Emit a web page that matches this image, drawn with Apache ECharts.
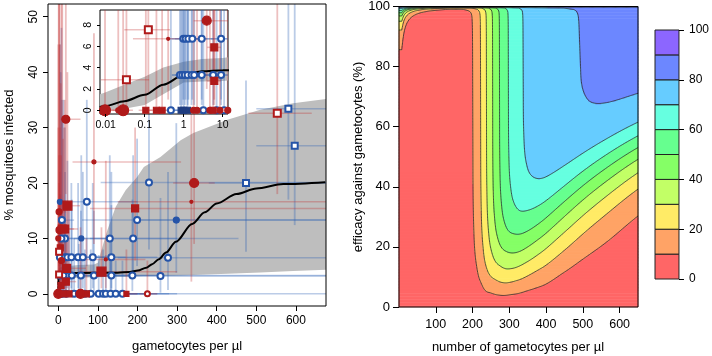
<!DOCTYPE html>
<html>
<head>
<meta charset="utf-8">
<script src="https://cdn.jsdelivr.net/npm/echarts@6/dist/echarts.min.js"></script>
<style>
html, body { margin: 0; padding: 0; background: #fff; }
#chart { width: 712px; height: 356px; }
</style>
</head>
<body>
<div id="chart"></div>
<script>
// fitted curve: gametocytes per µl -> % mosquitoes infected
const curveG = [0.007, 0.01, 0.03, 0.1, 0.3, 1, 3, 10, 100, 150, 180, 201, 222, 237, 254, 272, 297, 338, 370, 400, 450, 500, 568, 674];
const curveP = [0.3, 0.4, 0.85, 1.45, 2.4, 3.3, 3.65, 3.75, 3.78, 3.82, 3.95, 4.2, 4.72, 5.35, 6.25, 7.45, 9.4, 12.6, 14.7, 16.3, 18.0, 19.0, 19.8, 20.15];

// grey confidence band
const bandG = [0.007, 0.01, 0.03, 0.1, 0.3, 1, 3, 10, 50, 90, 100, 107, 124, 145, 170, 199, 216, 258, 309, 341, 427, 510, 593, 680];
const bandLo = [0, 0, 0.15, 0.5, 1.5, 2.6, 2.7, 2.75, 2.9, 3.0, 3.0, 3.0, 3.1, 3.1, 3.1, 3.15, 3.2, 3.2, 3.3, 3.4, 3.6, 3.85, 4.1, 4.35];
const bandHi = [1.5, 1.7, 2.4, 3.15, 4.0, 4.56, 4.8, 4.9, 5.2, 5.3, 5.6, 7.4, 11.5, 15.7, 18.7, 21.1, 22.9, 24.7, 27.7, 29, 31.4, 33.2, 34.4, 35.2];

// observations: [gametocytes, % infected, gLo, gHi, pLo, pHi, symbol size]
const redDots = [
  [19, 31.5, 6, 56, 18, 52.3, 8], [90, 23.8, 36, 310, 9, 47, 4], [343, 20.0, 290, 395, 9, 38.5, 9],
  [336, 16.6, 150, 676, 2.2, 40, 3], [2, 14.8, 0, 20, 5, 52.3, 6], [0, 10, 0, 12, 2, 45, 5],
  [3, 11.5, 0, 18, 3, 52.3, 7], [120, 6.2, 60, 220, 1, 24, 3], [0, 0, 0, 5, 0, 30, 9],
  [56, 0, 40, 80, 0, 12, 9], [8, 6, 0, 25, 1, 52.3, 6], [1, 0, 0, 3, 0, 52.3, 6],
  [4, 0, 0, 8, 0, 45, 5], [6, 0, 2, 12, 0, 38, 5], [14, 0, 5, 30, 0, 30, 5]
];
const redSquares = [
  [23, 15.9, 8, 55, 5, 40, 9], [194, 15.4, 80, 676, 6, 30, 7], [10, 11.7, 0, 40, 3, 52.3, 8],
  [16, 11.7, 0, 50, 3, 35, 8], [21, 4.6, 5, 70, 1, 16, 8], [109, 4.0, 50, 300, 1, 12, 9],
  [19, 2.2, 5, 45, 0.5, 10, 7], [27, 0, 15, 45, 0, 15, 6], [71, 0, 55, 100, 0, 10, 6],
  [5, 8.3, 0, 15, 2, 30, 6], [172, 0, 150, 200, 0, 8, 5], [12, 0, 4, 25, 0, 28, 6], [7, 1.5, 0, 20, 0.2, 25, 6]
];
const redOpenSquares = [
  [553, 32.6, 480, 640, 18, 52.3, 7], [2, 7.6, 0, 12, 1, 25, 6], [2, 3.5, 0, 10, 0.5, 20, 6]
];
const redOpenCircles = [[225, 0, 205, 250, 0, 6, 5]];
const blueOpenCircles = [
  [229, 20.1, 107, 676, 8, 36, 6], [72, 16.6, 5, 200, 5, 35, 6], [9, 13.3, 0, 40, 3, 35, 6],
  [199, 13.3, 60, 676, 5, 28, 6], [17, 10, 0, 60, 2, 30, 6], [130, 10, 40, 300, 3, 25, 6],
  [189, 10, 80, 455, 3, 25, 6],
  [4, 6.6, 0, 15, 1, 22, 6], [17, 6.6, 5, 40, 1, 22, 6], [23, 6.6, 8, 50, 1, 24, 6],
  [33, 6.6, 15, 70, 1, 20, 6], [50, 6.6, 25, 100, 1, 20, 6], [62, 6.6, 35, 120, 1, 22, 6],
  [87, 6.6, 50, 170, 1, 20, 6], [134, 6.6, 80, 250, 1, 22, 6], [277, 6.5, 150, 676, 0.7, 22, 6],
  [4, 3.3, 0, 12, 0.5, 18, 6], [17, 3.3, 5, 35, 0.5, 16, 6], [27, 3.3, 10, 50, 0.5, 16, 6],
  [34, 3.3, 15, 60, 0.5, 17, 6], [57, 3.3, 30, 110, 0.5, 15, 6], [90, 3.3, 50, 180, 0.5, 15, 6],
  [134, 3.3, 80, 260, 0.5, 16, 6], [187, 3.3, 110, 676, 0.5, 17, 6], [258, 3.2, 0, 676, 0.2, 17.3, 6],
  [2, 0, 0, 8, 0, 12, 6], [20, 0, 8, 40, 0, 10, 6], [40, 0, 20, 70, 0, 10, 6],
  [52, 0, 30, 90, 0, 9, 6], [67, 0, 40, 110, 0, 8, 6], [82, 0, 50, 140, 0, 8, 6],
  [102, 0, 60, 200, 0, 7, 6], [113, 0, 70, 220, 0, 8, 6], [120, 0, 60, 676, 0, 7, 6],
  [132, 0, 80, 250, 0, 7, 6], [145, 0, 90, 280, 0, 6, 6], [162, 0, 100, 300, 0, 6, 6],
  [6, 0, 0, 12, 0, 40, 6], [10, 0, 3, 20, 0, 32, 6], [13, 3.3, 5, 25, 0.5, 35, 6], [8, 10, 0, 20, 2, 48, 6]
];
const blueDots = [[58, 10, 20, 120, 3, 25, 5], [298, 13.3, 200, 676, 3.8, 30.8, 6], [4, 16.6, 0, 20, 5, 45, 5]];
const blueOpenSquares = [[581, 33.4, 500, 676, 17, 52.3, 6], [597, 26.7, 500, 676, 12.4, 52.3, 6], [474, 20, 380, 676, 7.6, 38.5, 6]];

// inset (log scale, low densities)
const insetRedDots = [
  [3.9, 8.4, 1.8, 13.7, 2, 9.4, 9], [0.40, 6.7, 0.05, 0.9, 1, 9.4, 3], [0.0096, 0, 0.00714, 0.02, 0, 9.4, 11],
  [0.028, 0, 0.015, 0.05, 0, 9.4, 11], [0.021, 0, 0.012, 0.03, 0, 9.4, 5], [1.8, 0, 1.2, 2.6, 0, 9.4, 6],
  [2.2, 0, 1.5, 3.2, 0, 9.4, 6], [4.7, 0, 3, 7, 0, 9.4, 6], [8.5, 0, 6, 12, 0, 9.4, 6], [13.5, 0, 10, 13.7, 0, 9.4, 6]
];
const insetRedSquares = [
  [6.1, 5.9, 4, 9, 1, 9.4, 7], [6.1, 2.75, 4, 9, 0.5, 9.4, 7], [0.107, 0, 0.07, 0.16, 0, 9.4, 6],
  [0.20, 0, 0.13, 0.3, 0, 9.4, 6], [0.28, 0, 0.18, 0.4, 0, 9.4, 6], [5.7, 0, 4, 8, 0, 9.4, 6]
];
const insetRedOpenSquares = [[0.124, 7.54, 0.03, 0.45, 1.5, 9.4, 7], [0.034, 2.85, 0.0075, 0.13, 0.3, 9.4, 7]];
const insetBlueOpen = [
  [0.98, 6.7, 0.4, 13.7, 1, 9.4, 6], [1.12, 6.7, 0.5, 3, 1, 9.4, 6], [1.32, 6.7, 0.6, 3, 1, 9.4, 6],
  [1.66, 6.7, 0.8, 4, 1, 9.4, 6], [2.9, 6.7, 1.5, 6, 1, 9.4, 6], [9.1, 6.7, 5, 13.7, 1, 9.4, 6],
  [0.80, 3.3, 0.5, 13.7, 0.5, 9.4, 6], [0.92, 3.3, 0.5, 2, 0.5, 9.4, 6], [1.07, 3.3, 0.6, 2, 0.5, 9.4, 6],
  [1.26, 3.3, 0.7, 3, 0.5, 9.4, 6], [1.59, 3.3, 0.9, 3, 0.5, 9.4, 6], [1.86, 3.3, 1, 4, 0.5, 9.4, 6],
  [2.9, 3.3, 1.5, 6, 0.5, 9.4, 6], [5.7, 3.3, 3, 10, 0.5, 9.4, 6], [9.1, 3.3, 5, 13.7, 0.5, 9.4, 6],
  [0.47, 0, 0.3, 13.7, 0, 9.4, 6], [3.2, 0, 2, 5, 0, 9.4, 6], [7.0, 0, 4, 11, 0, 9.4, 6], [10.9, 0, 7, 13.7, 0, 9.4, 6]
];
const insetBlueSquares = [[0.86, 0, 0.5, 1.3, 0, 9.4, 6], [1.0, 0, 0.6, 1.6, 0, 9.4, 6], [1.25, 0, 0.8, 2, 0, 9.4, 6]];

// contour levels (% reduction in infectiousness) and tick values
const contourLevels = [10, 20, 30, 40, 50, 60, 70, 80, 90];
const levelColors = ['#FF6666', '#FFA366', '#FFEB66', '#C2FF66', '#85FF66', '#66FF8F', '#66FFE0', '#66CCFF', '#6C87FF', '#8C66FF'];
const mainXTicks = [0, 100, 200, 300, 400, 500, 600];
const mainYTicks = [0, 10, 20, 30, 40, 50];
const insetXTicks = [0.01, 0.1, 1, 10];
const insetYTicks = [0, 2, 4, 6, 8];
const effXTicks = [100, 200, 300, 400, 500, 600];

const RED = '#B01A1A', BLUE = '#2554A8';
const RED_BAR = 'rgba(195,45,45,0.3)', BLUE_BAR = 'rgba(45,95,180,0.32)';
const FONT = 'Liberation Sans, Arial, Helvetica, sans-serif';

// monotone cubic through the read curve, on log10(gametocytes)
function monotone(xs, ys) {
  const n = xs.length, d = [], m = [];
  for (let i = 0; i < n - 1; i++) d.push((ys[i + 1] - ys[i]) / (xs[i + 1] - xs[i]));
  m[0] = d[0]; m[n - 1] = d[n - 2];
  for (let i = 1; i < n - 1; i++) m[i] = d[i - 1] * d[i] <= 0 ? 0 : (d[i - 1] + d[i]) / 2;
  for (let i = 0; i < n - 1; i++) {
    if (d[i] === 0) { m[i] = 0; m[i + 1] = 0; continue; }
    const a = m[i] / d[i], b = m[i + 1] / d[i], s = a * a + b * b;
    if (s > 9) { const t = 3 / Math.sqrt(s); m[i] = t * a * d[i]; m[i + 1] = t * b * d[i]; }
  }
  return x => {
    if (x <= xs[0]) return ys[0];
    if (x >= xs[n - 1]) return ys[n - 1];
    let i = 0;
    while (x > xs[i + 1]) i++;
    const h = xs[i + 1] - xs[i], t = (x - xs[i]) / h, t2 = t * t, t3 = t2 * t;
    return (2 * t3 - 3 * t2 + 1) * ys[i] + (t3 - 2 * t2 + t) * h * m[i] + (-2 * t3 + 3 * t2) * ys[i + 1] + (t3 - t2) * h * m[i + 1];
  };
}
const curveFn = monotone(curveG.map(Math.log10), curveP);
const infect = g => curveFn(Math.log10(Math.max(g, 1e-6)));
// reduction in infectiousness when gametocytes are cut by e % (surface sampled from g = 8 upwards, like the original grid)
const reduction = (g, e) => {
  const gg = Math.max(g, 8);
  return Math.max(0, 100 * (1 - infect(gg * (1 - e / 100)) / infect(gg)));
};

// sample the surface
const gStep = 2.5, eStep = 0.5;
const gridG = [], gridE = [];
for (let i = 0; i <= 650 / gStep; i++) gridG.push(i * gStep);
for (let j = 0; j <= 100 / eStep; j++) gridE.push(j * eStep);
const Z = gridE.map(e => gridG.map(g => reduction(g, e)));
const levelOf = z => Math.min(9, Math.floor(z / 10));

// filled cells, merged into runs along each row
const fillRuns = [];
for (let j = 0; j < gridE.length - 1; j++) {
  const ec = gridE[j] + eStep / 2;
  let start = 0, cur = levelOf(reduction(gridG[0] + gStep / 2, ec));
  for (let i = 1; i <= gridG.length - 1; i++) {
    const lv = i < gridG.length - 1 ? levelOf(reduction(gridG[i] + gStep / 2, ec)) : -1;
    if (lv !== cur) {
      fillRuns.push([gridG[start], gridG[i], gridE[j], gridE[j + 1], cur]);
      start = i; cur = lv;
    }
  }
}

// contour lines by marching squares
function contourSegments(L) {
  const segs = [];
  const cross = (x1, y1, v1, x2, y2, v2) => {
    const t = (L - v1) / (v2 - v1);
    return [x1 + t * (x2 - x1), y1 + t * (y2 - y1)];
  };
  for (let j = 0; j < gridE.length - 1; j++) {
    for (let i = 0; i < gridG.length - 1; i++) {
      const x0 = gridG[i], x1 = gridG[i + 1], y0 = gridE[j], y1 = gridE[j + 1];
      const a = Z[j][i], b = Z[j][i + 1], c = Z[j + 1][i + 1], d = Z[j + 1][i];
      const pts = [];
      if ((a - L) * (b - L) < 0) pts.push(cross(x0, y0, a, x1, y0, b));
      if ((b - L) * (c - L) < 0) pts.push(cross(x1, y0, b, x1, y1, c));
      if ((c - L) * (d - L) < 0) pts.push(cross(x1, y1, c, x0, y1, d));
      if ((d - L) * (a - L) < 0) pts.push(cross(x0, y1, d, x0, y0, a));
      if (pts.length >= 2) segs.push([pts[0], pts[1]]);
      if (pts.length === 4) segs.push([pts[2], pts[3]]);
    }
  }
  return segs;
}
const segsByLevel = contourLevels.map(contourSegments);

function barRenderer(color) {
  return function (params, api) {
    const g = api.value(0), p = api.value(1);
    const h0 = api.coord([api.value(2), p]), h1 = api.coord([api.value(3), p]);
    const v0 = api.coord([g, api.value(4)]), v1 = api.coord([g, api.value(5)]);
    return {
      type: 'group',
      children: [
        { type: 'line', shape: { x1: h0[0], y1: h0[1], x2: h1[0], y2: h1[1] }, style: { stroke: color, lineWidth: 1.5 } },
        { type: 'line', shape: { x1: v0[0], y1: v0[1], x2: v1[0], y2: v1[1] }, style: { stroke: color, lineWidth: 1.8 } }
      ]
    };
  };
}

function bandRenderer(params, api) {
  const pts = [];
  bandG.forEach((g, i) => pts.push(api.coord([g, bandHi[i]])));
  for (let i = bandG.length - 1; i >= 0; i--) pts.push(api.coord([bandG[i], bandLo[i]]));
  return { type: 'polygon', shape: { points: pts }, style: { fill: '#BEBEBE' } };
}

function panelSeries(ax, zb, groups, reds, blues) {
  const out = [
    { type: 'custom', xAxisIndex: ax, yAxisIndex: ax, data: [[0]], renderItem: bandRenderer, clip: true, z: zb + 1, silent: true },
    { type: 'custom', xAxisIndex: ax, yAxisIndex: ax, data: blues, renderItem: barRenderer(BLUE_BAR), clip: true, z: zb + 2, silent: true },
    { type: 'custom', xAxisIndex: ax, yAxisIndex: ax, data: reds, renderItem: barRenderer(RED_BAR), clip: true, z: zb + 2, silent: true },
    { type: 'line', xAxisIndex: ax, yAxisIndex: ax, data: curveG.map((g, i) => [g, curveP[i]]), symbol: 'none',
      smooth: 0.3, smoothMonotone: 'x', lineStyle: { color: '#000', width: 2 }, z: zb + 3, silent: true }
  ];
  groups.forEach(([data, symbol, color]) => {
    out.push({ type: 'scatter', xAxisIndex: ax, yAxisIndex: ax, data: data, symbol: symbol,
      symbolSize: v => v[6], itemStyle: { color: color, borderColor: color, borderWidth: 1.2, opacity: 1 },
      z: zb + 4, silent: true, progressive: 0 });
  });
  return out;
}

const mainSeries = panelSeries(0, 0, [
  [blueOpenCircles, 'emptyCircle', BLUE], [blueDots, 'circle', BLUE], [blueOpenSquares, 'emptyRect', BLUE],
  [redDots, 'circle', RED], [redSquares, 'rect', RED], [redOpenSquares, 'emptyRect', RED], [redOpenCircles, 'emptyCircle', RED]
], [...redDots, ...redSquares, ...redOpenSquares, ...redOpenCircles], [...blueOpenCircles, ...blueDots, ...blueOpenSquares]);

const insetSeries = panelSeries(1, 20, [
  [insetBlueOpen, 'emptyCircle', BLUE], [insetBlueSquares, 'rect', '#1F3D80'],
  [insetRedDots, 'circle', RED], [insetRedSquares, 'rect', RED], [insetRedOpenSquares, 'emptyRect', RED]
], [...insetRedDots, ...insetRedSquares, ...insetRedOpenSquares], [...insetBlueOpen, ...insetBlueSquares]);

const contourSeries = [
  { type: 'custom', xAxisIndex: 2, yAxisIndex: 2, data: fillRuns, progressive: 0, silent: true, z: 1,
    encode: { x: [0, 1], y: [2, 3] },
    renderItem: (params, api) => {
      const p0 = api.coord([api.value(0), api.value(2)]);
      const p1 = api.coord([api.value(1), api.value(3)]);
      return { type: 'rect', shape: { x: p0[0] - 0.35, y: p1[1] - 0.35, width: p1[0] - p0[0] + 0.7, height: p0[1] - p1[1] + 0.7 },
        style: { fill: levelColors[api.value(4)] } };
    } },
  { type: 'custom', xAxisIndex: 2, yAxisIndex: 2, data: contourLevels.map(l => [l]), progressive: 0, silent: true, z: 2,
    renderItem: (params, api) => {
      let d = '';
      segsByLevel[params.dataIndex].forEach(s => {
        const a = api.coord(s[0]), b = api.coord(s[1]);
        d += 'M' + a[0].toFixed(2) + ' ' + a[1].toFixed(2) + 'L' + b[0].toFixed(2) + ' ' + b[1].toFixed(2);
      });
      return { type: 'path', shape: { pathData: d }, style: { stroke: '#2a2a2a', lineWidth: 0.8, fill: null } };
    } },
  { type: 'custom', xAxisIndex: 3, yAxisIndex: 3, data: levelColors.map((c, i) => [i]), silent: true, z: 2,
    renderItem: (params, api) => {
      const i = api.value(0);
      const p0 = api.coord([0, i * 10]), p1 = api.coord([1, i * 10 + 10]);
      return { type: 'rect', shape: { x: p0[0], y: p1[1], width: p1[0] - p0[0], height: p0[1] - p1[1] },
        style: { fill: levelColors[i], stroke: '#222', lineWidth: 1 } };
    } }
];

const tickStyle = { color: '#000', width: 1 };
const lbl = (size, extra) => Object.assign({ color: '#000', fontSize: size, fontFamily: FONT }, extra);

const option = {
  animation: false,
  textStyle: { fontFamily: FONT },
  grid: [
    { left: 48, top: 4, width: 278, height: 302, show: true, borderColor: '#000', borderWidth: 1, backgroundColor: 'transparent', z: 10 },
    { left: 100, top: 10, width: 128, height: 104, show: true, borderColor: '#000', borderWidth: 1, backgroundColor: '#fff', z: 20 },
    { left: 399, top: 6, width: 239, height: 301, show: true, borderColor: '#000', borderWidth: 1, backgroundColor: 'transparent', z: 10 },
    { left: 655, top: 30, width: 26, height: 249, show: false }
  ],
  xAxis: [
    { gridIndex: 0, type: 'value', min: -26, max: 676, z: 10,
      axisLine: { show: false, onZero: false }, splitLine: { show: false },
      axisTick: { length: 5, lineStyle: tickStyle, customValues: mainXTicks },
      axisLabel: lbl(12, { margin: 9, customValues: mainXTicks }) },
    { gridIndex: 1, type: 'log', logBase: 10, min: 0.00714, max: 13.7, z: 25,
      axisLine: { show: false, onZero: false }, splitLine: { show: false },
      axisTick: { length: 3, lineStyle: tickStyle, customValues: insetXTicks },
      axisLabel: lbl(10.5, { margin: 6, customValues: insetXTicks }) },
    { gridIndex: 2, type: 'value', min: 0, max: 650, z: 10,
      axisLine: { show: false, onZero: false }, splitLine: { show: false },
      axisTick: { length: 6, lineStyle: tickStyle, customValues: effXTicks },
      axisLabel: lbl(12.5, { margin: 11, customValues: effXTicks }) },
    { gridIndex: 3, type: 'value', min: 0, max: 1, show: false }
  ],
  yAxis: [
    { gridIndex: 0, type: 'value', min: -2.2, max: 52.3, z: 10,
      axisLine: { show: false, onZero: false }, splitLine: { show: false },
      axisTick: { length: 5, lineStyle: tickStyle, customValues: mainYTicks },
      axisLabel: lbl(12, { margin: 8, rotate: 90, customValues: mainYTicks }) },
    { gridIndex: 1, type: 'value', min: -0.35, max: 9.4, z: 25,
      axisLine: { show: false, onZero: false }, splitLine: { show: false },
      axisTick: { length: 3, lineStyle: tickStyle, customValues: insetYTicks },
      axisLabel: lbl(10.5, { margin: 6, rotate: 90, customValues: insetYTicks }) },
    { gridIndex: 2, type: 'value', min: 0, max: 100, interval: 20, z: 10,
      axisLine: { show: false, onZero: false }, splitLine: { show: false },
      axisTick: { length: 6, lineStyle: tickStyle },
      axisLabel: lbl(13, { margin: 9 }) },
    { gridIndex: 3, type: 'value', position: 'right', min: 0, max: 100, interval: 20, z: 10,
      axisLine: { show: false, onZero: false }, splitLine: { show: false },
      axisTick: { length: 5, lineStyle: tickStyle },
      axisLabel: lbl(12, { margin: 10 }) }
  ],
  graphic: [
    { type: 'text', x: 9, y: 155, rotation: Math.PI / 2, style: { text: '% mosquitoes infected', fontSize: 13, fontFamily: FONT, fill: '#000', align: 'center', verticalAlign: 'middle' } },
    { type: 'text', x: 187, y: 346, style: { text: 'gametocytes per µl', fontSize: 13, fontFamily: FONT, fill: '#000', align: 'center', verticalAlign: 'middle' } },
    { type: 'text', x: 358, y: 157, rotation: Math.PI / 2, style: { text: 'efficacy against gametocytes (%)', fontSize: 13, fontFamily: FONT, fill: '#000', align: 'center', verticalAlign: 'middle' } },
    { type: 'text', x: 518, y: 347, style: { text: 'number of gametocytes per µl', fontSize: 13, fontFamily: FONT, fill: '#000', align: 'center', verticalAlign: 'middle' } }
  ],
  series: [...mainSeries, ...insetSeries, ...contourSeries]
};

const chart = echarts.init(document.getElementById('chart'), null, { renderer: 'canvas' });
chart.setOption(option);
</script>
</body>
</html>
